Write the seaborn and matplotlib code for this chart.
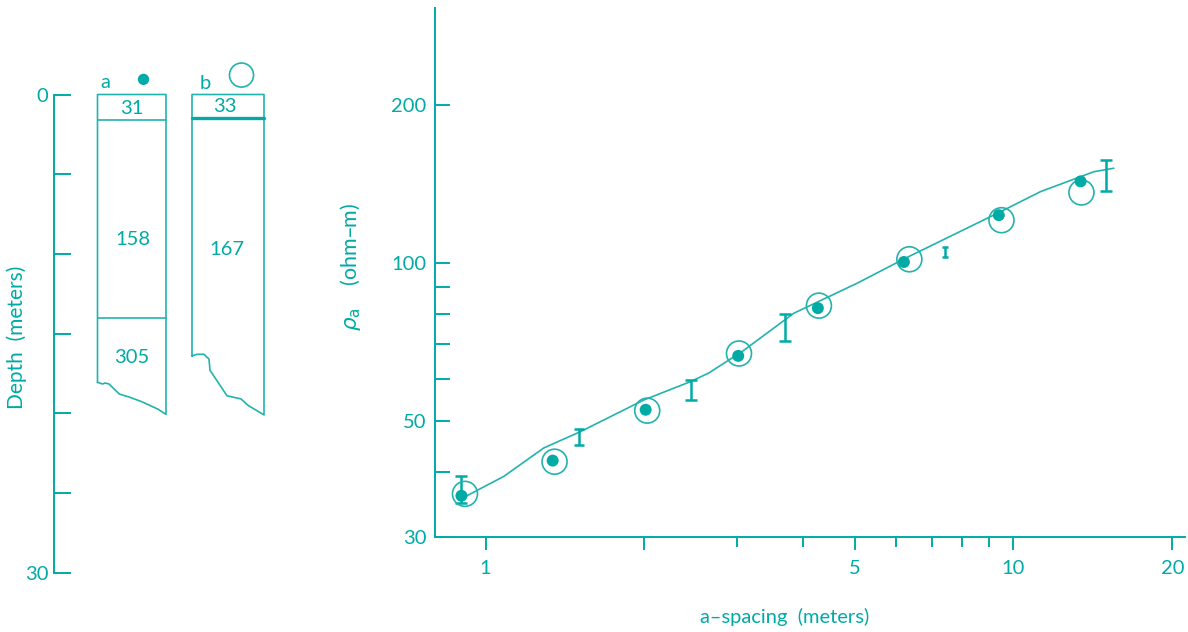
import matplotlib
matplotlib.use("Agg")
import matplotlib.pyplot as plt
import numpy as np
import pandas as pd
import seaborn as sns

# ---- sounding data -------------------------------------------------------
# field measurements, configuration a (filled dots)
spacing_a = [0.90, 1.34, 2.01, 3.01, 4.26, 6.20, 9.38, 13.4]
rho_a = [36.0, 42.0, 52.5, 66.5, 82.0, 100.4, 123.3, 143.0]

# field measurements, configuration b (open circles)
spacing_b = [0.914, 1.351, 2.024, 3.02, 4.28, 6.35, 9.49, 13.45]
rho_b = [36.3, 41.8, 52.3, 67.2, 82.9, 101.6, 120.6, 136.2]

# model response curve
curve_spacing = [0.917, 1.083, 1.289, 1.513, 1.994, 2.445, 2.648, 3.063,
                 3.837, 5.06, 6.245, 9.38, 11.25, 14.2, 15.49]
curve_rho = [35.9, 39.2, 44.4, 47.7, 54.8, 59.4, 61.7, 67.8,
             80.2, 91.5, 102.1, 124.7, 136.7, 149.2, 151.5]

# repeat-measurement ranges
range_spacing = [0.90, 1.50, 2.45, 3.69, 7.41, 14.98]
range_low = [34.8, 44.9, 54.8, 71.1, 102.8, 137.3]
range_high = [39.3, 48.3, 59.7, 80.0, 107.4, 157.1]

# ---- layered models (depth in meters) -------------------------------------
layers_a = [31, 158, 305]           # resistivities, model a
boundaries_a = [1.6, 14.0]          # layer interfaces, model a
layers_b = [33, 167]
boundaries_b = [1.47]

# ragged base of each column: horizontal offset and depth
base_a_x = [43.5, 48.7, 51, 55, 65.3, 76, 87.7, 104.3, 112]
base_a_z = [18.06, 18.16, 18.1, 18.16, 18.79, 19.0, 19.27, 19.75, 20.07]
base_b_x = [138, 143, 150, 155, 156, 173, 187, 194, 210]
base_b_z = [16.4, 16.3, 16.3, 16.6, 17.3, 18.9, 19.1, 19.5, 20.1]

depth_ticks = [0, 5, 10, 15, 20, 25, 30]
depth_ticklabels = ["0", "", "", "", "", "", "30"]
x_major = [1, 2, 5, 10, 20]
x_major_labels = ["1", "", "5", "10", "20"]
x_minor = [3, 4, 6, 7, 8, 9]
y_major = [30, 50, 100, 200]
y_minor = [40, 60, 70, 80, 90]

TEAL = "#00aaa5"
LINE = "#22b3ae"
FS = 14.5

sns.set_theme(style="white")
plt.rcParams["font.family"] = ["Lato", "DejaVu Sans"]
plt.rcParams["font.size"] = FS
plt.rcParams["text.color"] = TEAL
plt.rcParams["axes.labelcolor"] = TEAL
plt.rcParams["xtick.color"] = TEAL
plt.rcParams["ytick.color"] = TEAL

W, H = 1188, 632
fig = plt.figure(figsize=(W / 100, H / 100), dpi=100)
fig.patch.set_facecolor("white")

# ---- left panel: layered columns -------------------------------------------
axL = fig.add_axes([54 / W, (H - 572.7) / H, 236 / W, (572.7 - 94.5) / H])
axL.set_xlim(0, 236)
axL.set_ylim(30, 0)
for s in ["top", "right", "bottom"]:
    axL.spines[s].set_visible(False)
axL.spines["left"].set_color(TEAL)
axL.spines["left"].set_linewidth(1.4)
axL.set_xticks([])
axL.set_yticks(depth_ticks)
axL.set_yticklabels(depth_ticklabels)
axL.tick_params(axis="y", left=True, direction="in", length=12, width=1.4,
                pad=4, colors=TEAL, labelsize=FS)
axL.set_ylabel("Depth  (meters)", fontsize=FS + 0.5, va="center")
axL.yaxis.set_label_coords(-(54 - 17) / 236, 0.493)

lw_col = 1.2
# column a outline
xa = [base_a_x[0], base_a_x[0], base_a_x[-1], base_a_x[-1]] + base_a_x[::-1]
za = [base_a_z[0], 0, 0, base_a_z[-1]] + base_a_z[::-1]
axL.plot(xa, za, color=LINE, lw=lw_col, clip_on=False)
for zb in boundaries_a:
    axL.plot([base_a_x[0], base_a_x[-1]], [zb, zb], color=LINE, lw=lw_col)
# column b outline
xb = [base_b_x[0], base_b_x[0], base_b_x[-1], base_b_x[-1]] + base_b_x[::-1]
zb_ = [base_b_z[0], 0, 0, base_b_z[-1]] + base_b_z[::-1]
axL.plot(xb, zb_, color=LINE, lw=lw_col, clip_on=False)
for zb in boundaries_b:
    axL.plot([base_b_x[0], base_b_x[-1]], [zb, zb], color=TEAL, lw=2.4)

# resistivity labels inside the layers
ca = (base_a_x[0] + base_a_x[-1]) / 2
cb = (base_b_x[0] + base_b_x[-1]) / 2
axL.text(ca, 0.85, str(layers_a[0]), ha="center", va="center")
axL.text(ca + 1, 9.1, str(layers_a[1]), ha="center", va="center")
axL.text(ca, 16.5, str(layers_a[2]), ha="center", va="center")
axL.text(cb - 3, 0.75, str(layers_b[0]), ha="center", va="center")
axL.text(cb - 1, 9.75, str(layers_b[1]), ha="center", va="center")

# column keys
axL.text(51.5, -0.75, "a", ha="center", va="center", fontsize=FS)
axL.text(151.5, -0.7, "b", ha="center", va="center", fontsize=FS)
axL.scatter([89.5], [-0.95], s=66, color=TEAL, edgecolor="none", clip_on=False)
axL.scatter([187.5], [-1.22], s=300, facecolor="none", edgecolor=LINE,
            linewidth=1.2, clip_on=False)

# ---- right panel: sounding curve ---------------------------------------------
axR = fig.add_axes([435 / W, (H - 537.3) / H, 750 / W, (537.3 - 8) / H])
axR.set_xscale("log")
axR.set_yscale("log")
axR.set_xlim(0.802, 21.13)
axR.set_ylim(30, 306)
for s in ["top", "right"]:
    axR.spines[s].set_visible(False)
for s in ["left", "bottom"]:
    axR.spines[s].set_color(TEAL)
    axR.spines[s].set_linewidth(1.4)

curve = pd.DataFrame({"spacing": curve_spacing, "rho": curve_rho})
sns.lineplot(data=curve, x="spacing", y="rho", sort=False, estimator=None,
             color=LINE, lw=1.2, ax=axR)

mid = [(lo + hi) / 2 for lo, hi in zip(range_low, range_high)]
err = [[m - lo for m, lo in zip(mid, range_low)],
       [hi - m for m, hi in zip(mid, range_high)]]
caps = [4.0, 3.4, 4.0, 4.2, 2.4, 4.2]
for i in range(len(range_spacing)):
    axR.errorbar([range_spacing[i]], [mid[i]],
                 yerr=[[err[0][i]], [err[1][i]]], fmt="none",
                 ecolor=TEAL, elinewidth=1.8, capsize=caps[i], capthick=1.8)

pts_b = pd.DataFrame({"spacing": spacing_b, "rho": rho_b})
pts_a = pd.DataFrame({"spacing": spacing_a, "rho": rho_a})
sns.scatterplot(data=pts_b, x="spacing", y="rho", s=324, facecolor="none",
                edgecolor=LINE, linewidth=1.2, ax=axR, zorder=4)
sns.scatterplot(data=pts_a, x="spacing", y="rho", s=74, color=TEAL,
                edgecolor="none", ax=axR, zorder=5)

axR.xaxis.set_major_locator(matplotlib.ticker.FixedLocator(x_major))
axR.xaxis.set_major_formatter(matplotlib.ticker.FixedFormatter(x_major_labels))
axR.xaxis.set_minor_locator(matplotlib.ticker.FixedLocator(x_minor))
axR.xaxis.set_minor_formatter(matplotlib.ticker.NullFormatter())
axR.yaxis.set_major_locator(matplotlib.ticker.FixedLocator(y_major))
axR.yaxis.set_major_formatter(
    matplotlib.ticker.FixedFormatter([str(v) for v in y_major]))
axR.yaxis.set_minor_locator(matplotlib.ticker.FixedLocator(y_minor))
axR.yaxis.set_minor_formatter(matplotlib.ticker.NullFormatter())

axR.tick_params(axis="x", which="major", direction="out", length=9, width=1.4,
                pad=7, colors=TEAL, labelsize=FS)
axR.tick_params(axis="x", which="minor", direction="out", length=7.5, width=1.4,
                colors=TEAL)
axR.tick_params(axis="y", which="both", direction="in", length=11, width=1.4,
                pad=6, colors=TEAL, labelsize=FS)
axR.tick_params(axis="both", which="both", bottom=True, left=True)

axR.set_xlabel("a–spacing  (meters)", fontsize=FS, va="center")
axR.xaxis.set_label_coords((785 - 435) / 750, -(617 - 537.3) / 529.3)
axR.set_ylabel(r"$\rho_{\mathrm{a}}$    (ohm–m)", fontsize=FS + 1, va="center")
axR.yaxis.set_label_coords(-(435 - 350) / 750, 0.51)

fig.savefig("out.png", dpi=100, facecolor="white")
